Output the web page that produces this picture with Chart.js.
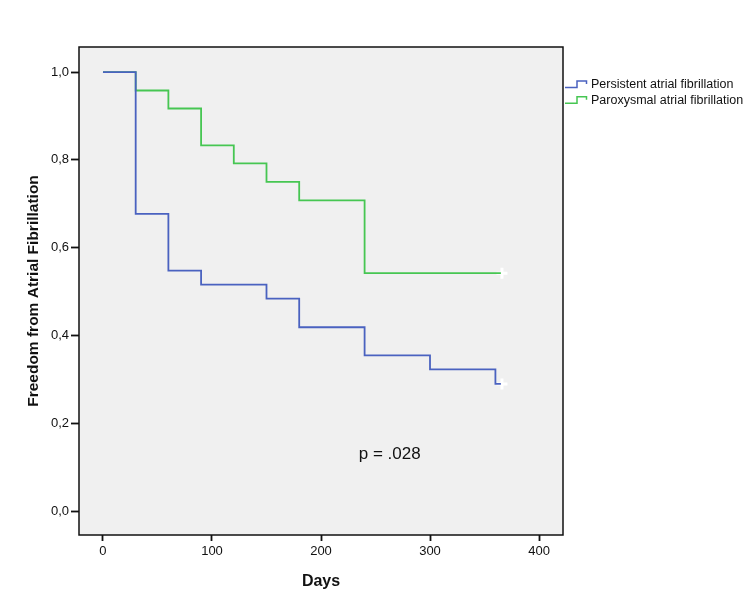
<!DOCTYPE html>
<html>
<head>
<meta charset="utf-8">
<script src="https://cdn.jsdelivr.net/npm/chart.js@4"></script>
<style>
    body { margin: 0; background: #fff; }
    #wrap { width: 750px; height: 616px; }
</style>
</head>
<body>
<div id="wrap"><canvas id="km-chart" width="750" height="616"></canvas></div>
<script>
// survival steps
let persistentDays = [0, 30, 60, 90, 150, 180, 240, 300, 360, 365];
let persistentSurv = [1.0, 0.677, 0.548, 0.516, 0.484, 0.419, 0.355, 0.323, 0.290, 0.290];
let paroxysmalDays = [0, 30, 60, 90, 120, 150, 180, 240, 365];
let paroxysmalSurv = [1.0, 0.958, 0.917, 0.833, 0.792, 0.750, 0.708, 0.542, 0.542];
// censored observations (white plus marks)
let censorDays = [366, 366];
let censorSurv = [0.290, 0.542];

let seriesNames = ["Persistent atrial fibrillation", "Paroxysmal atrial fibrillation"];
let lineColors = ["#4a62c0", "#46c652"];
let xTicks = [0, 100, 200, 300, 400];
let yTicks = [0, 0.2, 0.4, 0.6, 0.8, 1.0];
let pNote = "p = .028";
let pNoteX = 263;
let pNoteY = 0.13;

const font = "'Liberation Sans', Arial, sans-serif";

function toPoints(xs, ys) {
    return xs.map((x, i) => ({ x: x, y: ys[i] }));
}

// grey plot panel, frame, legend and p value
const panel = {
    id: "panel",
    beforeDatasetsDraw(chart) {
        const { ctx, chartArea: a } = chart;
        ctx.save();
        ctx.fillStyle = "#f0f0f0";
        ctx.fillRect(a.left, a.top, a.right - a.left, a.bottom - a.top);
        ctx.restore();
    },
    afterDraw(chart) {
        const { ctx, chartArea: a, scales } = chart;
        ctx.save();
        ctx.strokeStyle = "#111";
        ctx.lineWidth = 1.5;
        ctx.strokeRect(a.left, a.top, a.right - a.left, a.bottom - a.top);

        // legend
        ctx.font = "12.5px " + font;
        ctx.textBaseline = "middle";
        ctx.textAlign = "left";
        seriesNames.forEach((name, i) => {
            let y = a.top + 38 + i * 15.7;
            let x = a.right + 2;
            ctx.strokeStyle = lineColors[i];
            ctx.lineWidth = 1.5;
            ctx.beginPath();
            ctx.moveTo(x, y + 2.5);
            ctx.lineTo(x + 12, y + 2.5);
            ctx.lineTo(x + 12, y - 4);
            ctx.lineTo(x + 21.5, y - 4);
            ctx.lineTo(x + 21.5, y - 1);
            ctx.stroke();
            ctx.fillStyle = "#111";
            ctx.fillText(name, x + 26, y);
        });

        // p value
        ctx.font = "17px " + font;
        ctx.textAlign = "center";
        ctx.fillStyle = "#111";
        ctx.fillText(pNote, scales.x.getPixelForValue(pNoteX), scales.y.getPixelForValue(pNoteY));
        ctx.restore();
    },
};

const chart = document.getElementById("km-chart");
new Chart(chart, {
    type: "line",
    data: {
        datasets: [
            {
                label: seriesNames[0],
                data: toPoints(persistentDays, persistentSurv),
                borderColor: lineColors[0],
                borderWidth: 1.8,
                stepped: "before",
                pointRadius: 0,
            },
            {
                label: seriesNames[1],
                data: toPoints(paroxysmalDays, paroxysmalSurv),
                borderColor: lineColors[1],
                borderWidth: 1.8,
                stepped: "before",
                pointRadius: 0,
            },
            {
                label: "censored",
                type: "scatter",
                data: toPoints(censorDays, censorSurv),
                showLine: false,
                pointStyle: "cross",
                pointRadius: 5.5,
                borderColor: "#ffffff",
                backgroundColor: "#ffffff",
                borderWidth: 3,
            },
        ],
    },
    plugins: [panel],
    options: {
        responsive: false,
        animation: false,
        layout: { padding: { top: 47, right: 187, bottom: 0, left: 0 } },
        plugins: {
            legend: { display: false },
            tooltip: { enabled: false },
        },
        scales: {
            x: {
                type: "linear",
                min: -22,
                max: 422,
                afterBuildTicks: (scale) => {
                    scale.ticks = xTicks.map((v) => ({ value: v }));
                },
                afterFit: (scale) => {
                    scale.height = 81;
                },
                grid: { drawOnChartArea: false, drawTicks: true, tickLength: 6, tickWidth: 1.8, color: "#111" },
                border: { display: false },
                ticks: {
                    padding: 3,
                    color: "#111",
                    font: { family: font, size: 13 },
                    maxRotation: 0,
                },
                title: {
                    display: true,
                    text: "Days",
                    color: "#111",
                    font: { family: font, size: 16, weight: "bold" },
                    padding: { top: 0, bottom: 25 },
                },
            },
            y: {
                type: "linear",
                min: -0.054,
                max: 1.057,
                afterBuildTicks: (scale) => {
                    scale.ticks = yTicks.map((v) => ({ value: v }));
                },
                afterFit: (scale) => {
                    scale.width = 79;
                },
                grid: { drawOnChartArea: false, drawTicks: true, tickLength: 8, tickWidth: 1.8, color: "#111" },
                border: { display: false },
                ticks: {
                    padding: 2,
                    color: "#111",
                    font: { family: font, size: 13 },
                    callback: (v) => v.toFixed(1).replace(".", ","),
                },
                title: {
                    display: true,
                    text: "Freedom from Atrial Fibrillation",
                    color: "#111",
                    font: { family: font, size: 15.5, weight: "bold" },
                    padding: { top: 24, bottom: 0 },
                },
            },
        },
    },
});
</script>
</body>
</html>
